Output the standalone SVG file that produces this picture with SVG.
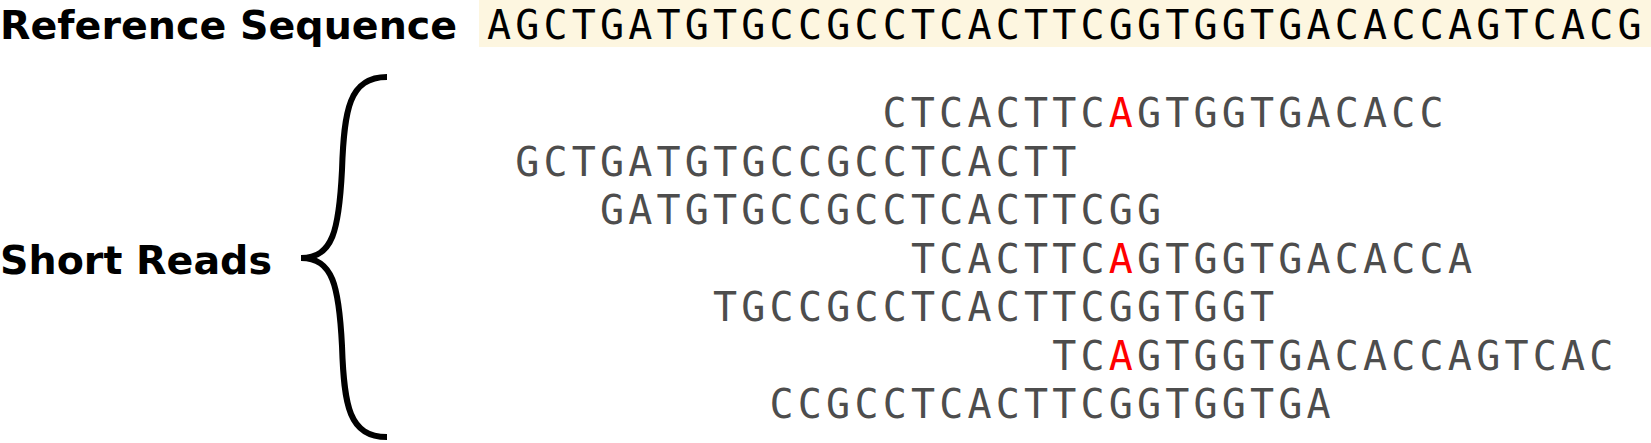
<svg xmlns="http://www.w3.org/2000/svg" width="1651" height="443" viewBox="0 0 1651 443">
<style>
.label{font-family:"DejaVu Sans","Liberation Sans",sans-serif;font-weight:bold;font-size:39.6px;fill:#000}
.seq{font-family:"DejaVu Sans Mono","Liberation Mono",monospace;font-size:40px;letter-spacing:4.18px}
.ref{fill:#000}
.read{fill:#4d4d4d}
.snp{fill:#ff0000}
.brace{fill:none;stroke:#000;stroke-width:6;stroke-linecap:butt;stroke-linejoin:miter}
</style>
<rect x="0" y="0" width="1651" height="443" fill="#fff"/>
<g id="ref-label"><text class="label" x="0" y="39">Reference Sequence</text></g>
<g id="ref-seq">
<rect x="479" y="0" width="1172" height="47" fill="#fdf6e0"/>
<text class="seq ref" x="487" y="39">AGCTGATGTGCCGCCTCACTTCGGTGGTGACACCAGTCACG</text>
</g>
<g id="reads-label"><text class="label" x="0" y="274">Short Reads</text></g>
<g id="connectors">
<path class="brace" d="M387,77 C349,77 344,110 342,170 C339,230 333,258 301,258 C333,258 339,286 342,346 C344,406 349,437 387,437"/>
</g>
<g id="read1"><text class="seq read" x="882.6" y="127">CTCACTTC<tspan class="snp">A</tspan>GTGGTGACACC</text></g>
<g id="read2"><text class="seq read" x="515.3" y="175.5">GCTGATGTGCCGCCTCACTT</text></g>
<g id="read3"><text class="seq read" x="600" y="224">GATGTGCCGCCTCACTTCGG</text></g>
<g id="read4"><text class="seq read" x="910.9" y="272.5">TCACTTC<tspan class="snp">A</tspan>GTGGTGACACCA</text></g>
<g id="read5"><text class="seq read" x="713.1" y="321">TGCCGCCTCACTTCGGTGGT</text></g>
<g id="read6"><text class="seq read" x="1052.2" y="369.5">TC<tspan class="snp">A</tspan>GTGGTGACACCAGTCAC</text></g>
<g id="read7"><text class="seq read" x="769.6" y="418">CCGCCTCACTTCGGTGGTGA</text></g>
</svg>
